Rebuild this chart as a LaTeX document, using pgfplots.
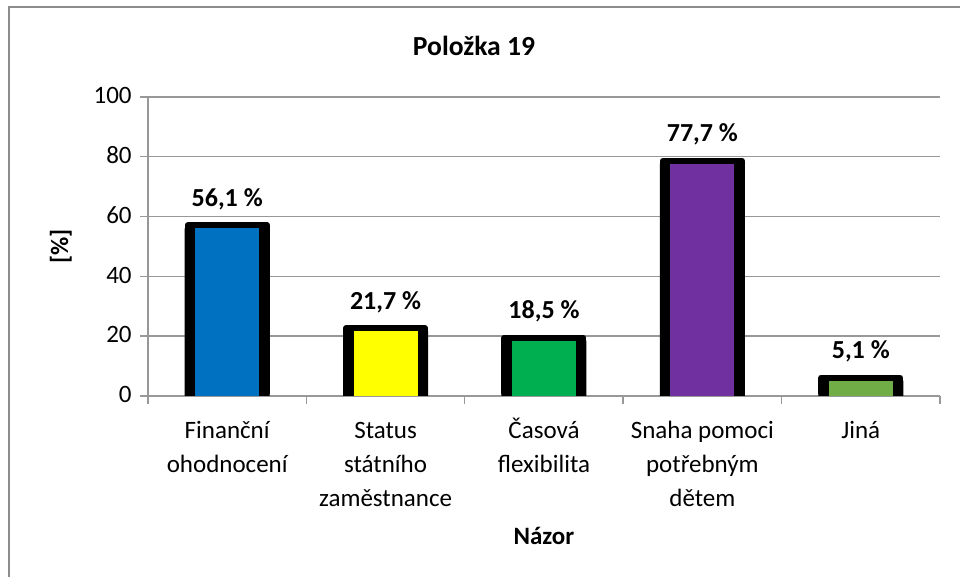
\documentclass[border=0pt]{standalone}
\usepackage{fontspec}
\setmainfont{Carlito}
\usepackage{pgfplots}
\usepackage{pgfplotstable}
\pgfplotsset{compat=1.18}

\definecolor{cBlue}{HTML}{0070C0}
\definecolor{cYellow}{HTML}{FFFF00}
\definecolor{cGreen}{HTML}{00B050}
\definecolor{cPurple}{HTML}{7030A0}
\definecolor{cOlive}{HTML}{70AD47}
\definecolor{gridgray}{HTML}{989898}
\definecolor{framegray}{HTML}{8C8C8C}

\newcommand\fs{\fontsize{12.5}{16.8}\selectfont}

% hodnoty v procentech
\pgfplotstableread{
x v
0 56.1
1 21.7
2 18.5
3 77.7
4 5.1
}\polozka

\begin{document}
\begin{tikzpicture}
\useasboundingbox (-74pt,-90.5pt) rectangle (406pt,198pt);
\draw[framegray, line width=0.7pt] (-69.5pt,-130pt) rectangle (440pt,194.5pt);
\begin{axis}[
  at={(0,0)}, anchor=south west,
  scale only axis, width=396pt, height=149.5pt,
  /pgf/number format/assume math mode=true,
  ymin=0, ymax=100, ytick={0,20,...,100},
  xmin=-0.5, xmax=4.5,
  xtick={0,...,4},
  xticklabels={{Finanční\\ohodnocení},{Status\\státního\\zaměstnance},{Časová\\flexibilita},{Snaha pomoci\\potřebným\\dětem},{Jiná}},
  minor xtick={-0.5,0.5,...,4.5},
  typeset ticklabels with strut,
  axis lines*=left,
  axis line style={gridgray, line width=0.7pt},
  tick align=outside,
  major tick length=4pt, minor tick length=4pt,
  tick style={gridgray, line width=0.7pt},
  major x tick style={draw=none},
  ymajorgrids,
  major grid style={gridgray, line width=0.7pt},
  ticklabel style={font=\fs},
  xticklabel style={align=center, anchor=north, inner sep=0pt, yshift=-5.5pt},
  yticklabel style={anchor=east, inner sep=0pt, xshift=-4pt},
  title={\textbf{Položka 19}},
  title style={font=\fontsize{13.8}{16}\selectfont, at={(axis description cs:0.4116,1.130)}, anchor=center},
  xlabel={\textbf{Názor}},
  xlabel style={font=\fs, at={(axis description cs:0.5,-0.468)}, anchor=center},
  ylabel={\textbf{[\%]}},
  ylabel style={font=\fs, at={(axis description cs:-0.11,0.5)}, anchor=center},
]
% cerne okraje sloupcu
\addplot[ybar, bar shift=0pt, bar width=42.5pt, fill=black, draw=none] table[x=x,y=v]{\polozka};
\addplot[ybar, bar shift=0pt, bar width=39.5pt, fill=black, draw=black, line width=3pt, line join=round, yshift=1.5pt] table[x=x,y=v]{\polozka};
% vypln
\addplot[ybar, bar shift=0pt, bar width=32pt, fill=cBlue, draw=none, restrict x to domain=-0.1:0.1] table[x=x,y=v]{\polozka};
\addplot[ybar, bar shift=0pt, bar width=32pt, fill=cYellow, draw=none, restrict x to domain=0.9:1.1] table[x=x,y=v]{\polozka};
\addplot[ybar, bar shift=0pt, bar width=32pt, fill=cGreen, draw=none, restrict x to domain=1.9:2.1] table[x=x,y=v]{\polozka};
\addplot[ybar, bar shift=0pt, bar width=32pt, fill=cPurple, draw=none, restrict x to domain=2.9:3.1] table[x=x,y=v]{\polozka};
\addplot[ybar, bar shift=0pt, bar width=32pt, fill=cOlive, draw=none, restrict x to domain=3.9:4.1] table[x=x,y=v]{\polozka};
% popisky
\addplot[ybar, bar shift=0pt, bar width=32pt, draw=none, fill=none,
  nodes near coords={\pgfmathprintnumber[use comma,fixed,fixed zerofill,precision=1]{\pgfplotspointmeta} \%},
  every node near coord/.append style={font=\fontsize{13}{15}\selectfont\bfseries, anchor=base, inner sep=0pt, yshift=11pt}]
  table[x=x,y=v]{\polozka};
\end{axis}
\end{tikzpicture}
\end{document}
